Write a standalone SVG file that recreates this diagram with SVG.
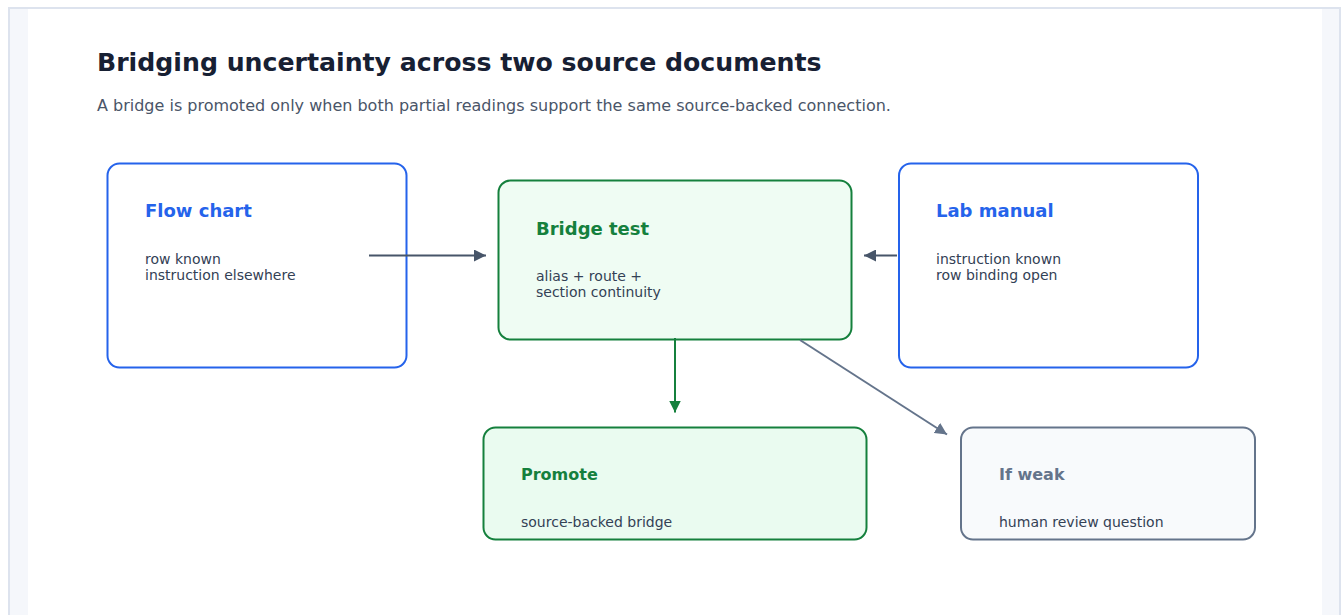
<svg xmlns="http://www.w3.org/2000/svg" width="1342" height="615" viewBox="0 0 1342 615">
<style>
text{font-family:"DejaVu Sans","Liberation Sans",sans-serif}
.title{font-size:25.2px;font-weight:700;fill:#172033}
.sub{font-size:16px;fill:#4a5568}
.nt{font-size:18px;font-weight:700}
.ns{font-size:16px;font-weight:700}
.nb{font-size:14px;fill:#334155}
.blue{fill:#fff;stroke:#2563eb;stroke-width:2}
.green{stroke:#15803d;stroke-width:2}
.gray{fill:#f8fafc;stroke:#64748b;stroke-width:2}
.conn{fill:none;stroke-width:2}
</style>
<defs>
<marker id="ahSlate" markerUnits="userSpaceOnUse" markerWidth="13" markerHeight="12" refX="12" refY="6" orient="auto"><path d="M0,0 L12,6 L0,12 z" fill="#475569"/></marker>
<marker id="ahGreen" markerUnits="userSpaceOnUse" markerWidth="13" markerHeight="12" refX="12" refY="6" orient="auto"><path d="M0,0 L12,6 L0,12 z" fill="#15803d"/></marker>
<marker id="ahGray" markerUnits="userSpaceOnUse" markerWidth="13" markerHeight="12" refX="12" refY="6" orient="auto"><path d="M0,0 L12,6 L0,12 z" fill="#64748b"/></marker>
</defs>
<rect x="0" y="0" width="1342" height="615" fill="#fff"/>
<rect x="9" y="8" width="1331" height="640" fill="#f5f7fb" stroke="#dde3ee" stroke-width="2"/>
<rect x="28" y="9" width="1294" height="640" fill="#fff"/>
<text class="title" x="97" y="71">Bridging uncertainty across two source documents</text>
<text class="sub" x="97" y="111">A bridge is promoted only when both partial readings support the same source-backed connection.</text>

<g id="flow-chart">
<rect class="blue" x="107.5" y="163.5" width="299" height="204" rx="12"/>
<text class="nt" x="145" y="217" fill="#2563eb">Flow chart</text>
<text class="nb" x="145" y="264">row known</text>
<text class="nb" x="145" y="280">instruction elsewhere</text>
</g>

<g id="bridge-test">
<rect class="green" x="498.5" y="180.5" width="353" height="159" rx="12" fill="#effcf3"/>
<text class="nt" x="536" y="235" fill="#15803d">Bridge test</text>
<text class="nb" x="536" y="281">alias + route +</text>
<text class="nb" x="536" y="297">section continuity</text>
</g>

<g id="lab-manual">
<rect class="blue" x="899" y="163.5" width="299" height="204" rx="12"/>
<text class="nt" x="936" y="217" fill="#2563eb">Lab manual</text>
<text class="nb" x="936" y="264">instruction known</text>
<text class="nb" x="936" y="280">row binding open</text>
</g>

<g id="promote">
<rect class="green" x="483.5" y="427.5" width="383" height="112" rx="12" fill="#eafbf0"/>
<text class="ns" x="521" y="480" fill="#15803d">Promote</text>
<text class="nb" x="521" y="527">source-backed bridge</text>
</g>

<g id="if-weak">
<rect class="gray" x="961" y="427.5" width="294" height="112" rx="12"/>
<text class="ns" x="999" y="480" fill="#64748b">If weak</text>
<text class="nb" x="999" y="527">human review question</text>
</g>

<g id="connectors">
<line class="conn" x1="369" y1="255.5" x2="486" y2="255.5" stroke="#475569" marker-end="url(#ahSlate)"/>
<line class="conn" x1="897" y1="255.5" x2="864" y2="255.5" stroke="#475569" marker-end="url(#ahSlate)"/>
<line class="conn" x1="675" y1="338" x2="675" y2="412.5" stroke="#15803d" marker-end="url(#ahGreen)"/>
<line class="conn" x1="800" y1="340" x2="947" y2="434.5" stroke="#64748b" marker-end="url(#ahGray)"/>
</g>
</svg>
